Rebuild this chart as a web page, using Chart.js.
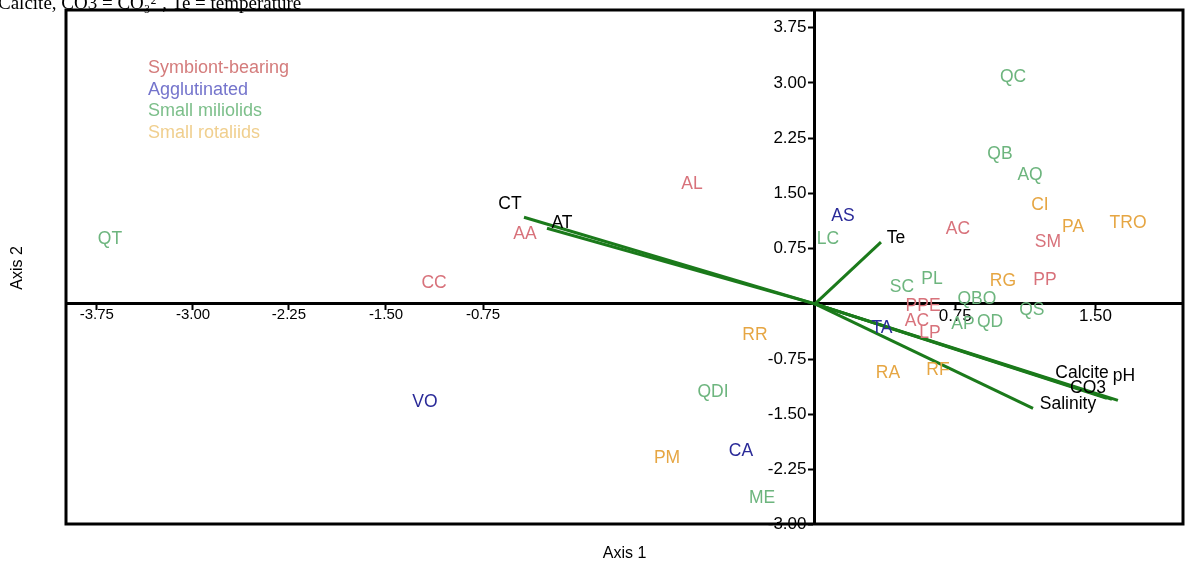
<!DOCTYPE html>
<html>
<head>
<meta charset="utf-8">
<title>Axis 1 / Axis 2 biplot</title>
<script src="https://cdn.jsdelivr.net/npm/chart.js@4.4.1/dist/chart.umd.min.js"></script>
<style>
    html, body { margin: 0; padding: 0; background: #fff; }
</style>
</head>
<body>
<canvas id="myChart" width="1187" height="563"></canvas>
<script>

var groups = ["Symbiont-bearing", "Agglutinated", "Small miliolids", "Small rotaliids"];
var groupColors = ["#d8727b", "#2a2a98", "#6db57e", "#e6a643"];
var legendColors = ["#d47c7c", "#7474cc", "#7cbf8a", "#f0cf8e"];

// species scores (Axis 1, Axis 2)
var symbNames = ["AL", "AA", "CC", "AC", "SM", "PP", "PPE", "AC", "LP"];
var symbX = [-0.658, -1.551, -2.037, 0.765, 1.246, 1.230, 0.578, 0.545, 0.615];
var symbY = [1.62, 0.946, 0.284, 1.014, 0.838, 0.324, -0.027, -0.230, -0.392];

var agglNames = ["AS", "VO", "CA", "TA"];
var agglX = [0.150, -2.086, -0.396, 0.358];
var agglY = [1.189, -1.338, -2.0, -0.324];

var miliNames = ["QT", "LC", "QC", "QB", "AQ", "SC", "PL", "QBO", "QS", "AP", "QD", "QDI", "ME"];
var miliX = [-3.770, 0.070, 1.059, 0.989, 1.150, 0.465, 0.626, 0.866, 1.160, 0.791, 0.936, -0.545, -0.283];
var miliY = [0.878, 0.878, 3.081, 2.027, 1.743, 0.230, 0.338, 0.068, -0.081, -0.270, -0.243, -1.203, -2.635];

var rotaNames = ["CI", "PA", "TRO", "RG", "RR", "RA", "RF", "PM"];
var rotaX = [1.203, 1.380, 1.674, 1.005, -0.321, 0.390, 0.658, -0.791];
var rotaY = [1.338, 1.041, 1.095, 0.311, -0.419, -0.946, -0.905, -2.095];

// environmental vectors
var vecNames = ["CT", "AT", "Te", "Calcite", "CO3", "pH", "Salinity"];
var vecX = [-1.556, -1.433, 0.353, 1.561, 1.588, 1.620, 1.166];
var vecY = [1.176, 1.027, 0.838, -1.284, -1.297, -1.311, -1.419];
var vecLabelX = [-1.631, -1.353, 0.433, 1.428, 1.460, 1.652, 1.353];
var vecLabelY = [1.351, 1.095, 0.892, -0.946, -1.149, -0.986, -1.365];

// tick labels
var xTickAt = [-3.840, -3.326, -2.813, -2.294, -1.775, 0.75, 1.50];
var xTickLabels = ["-3.75", "-3.00", "-2.25", "-1.50", "-0.75", "0.75", "1.50"];
var yTicks = [3.75, 3.00, 2.25, 1.50, 0.75, -0.75, -1.50, -2.25, -3.00];

var title = "Calcite, CO3 = CO\u2083\u00b2\u207b, Te = temperature";

var FONT = "'Liberation Sans', Arial, sans-serif";


function toPoints(xs, ys) {
    var pts = [];
    for (var i = 0; i < xs.length; i++) {
        pts.push({ x: xs[i], y: ys[i] });
    }
    return pts;
}

function createDatasets() {
    var data = [];

    // vectors first so the labels sit on top
    for (var i = 0; i < vecNames.length; i++) {
        data.push({
            label: vecNames[i],
            data: [{ x: 0, y: 0 }, { x: vecX[i], y: vecY[i] }],
            showLine: true,
            borderColor: '#1b7a1b',
            borderWidth: 3,
            pointRadius: 0
        });
    }

    var names = [symbNames, agglNames, miliNames, rotaNames];
    var xs = [symbX, agglX, miliX, rotaX];
    var ys = [symbY, agglY, miliY, rotaY];
    for (var g = 0; g < groups.length; g++) {
        data.push({
            label: groups[g],
            data: toPoints(xs[g], ys[g]),
            names: names[g],
            textColor: groupColors[g],
            showLine: false,
            pointRadius: 0,
            backgroundColor: groupColors[g]
        });
    }

    // vector labels as invisible points
    data.push({
        label: "vector labels",
        data: toPoints(vecLabelX, vecLabelY),
        names: vecNames,
        textColor: '#000',
        showLine: false,
        pointRadius: 0
    });

    return data;
}

var textPlugin = {
    id: 'pointText',
    afterDatasetsDraw: function(chart) {
        var ctx = chart.ctx;
        ctx.save();
        ctx.font = "17.5px " + FONT;
        ctx.textAlign = 'center';
        ctx.textBaseline = 'middle';
        chart.data.datasets.forEach(function(ds, di) {
            if (!ds.names) return;
            var meta = chart.getDatasetMeta(di);
            ctx.fillStyle = ds.textColor;
            meta.data.forEach(function(el, i) {
                ctx.fillText(ds.names[i], el.x, el.y);
            });
        });
        ctx.restore();
    },
    afterDraw: function(chart) {
        var ctx = chart.ctx;
        var a = chart.chartArea;
        ctx.save();

        // frame
        ctx.strokeStyle = '#000';
        ctx.lineWidth = 3;
        ctx.strokeRect(a.left, a.top, a.right - a.left, a.bottom - a.top);

        // legend text
        ctx.font = "18px " + FONT;
        ctx.textAlign = 'left';
        ctx.textBaseline = 'alphabetic';
        for (var i = 0; i < groups.length; i++) {
            ctx.fillStyle = legendColors[i];
            ctx.fillText(groups[i], a.left + 82, a.top + 63 + i * 21.5);
        }

        // axis titles
        ctx.fillStyle = '#000';
        ctx.font = "16px " + FONT;
        ctx.textAlign = 'center';
        ctx.textBaseline = 'middle';
        ctx.fillText("Axis 1", (a.left + a.right) / 2, a.bottom + 30);
        ctx.save();
        ctx.translate(18, (a.top + a.bottom) / 2 + 1);
        ctx.rotate(-Math.PI / 2);
        ctx.fillText("Axis 2", 0, 0);
        ctx.restore();

        // cut-off caption at the very top
        ctx.font = "19px 'Liberation Serif', 'Times New Roman', serif";
        ctx.textAlign = 'left';
        ctx.textBaseline = 'alphabetic';
        ctx.fillText(title, -2, 9);

        ctx.restore();
    }
};

const el = document.getElementById('myChart');

const config = {
    type: 'scatter',
    data: { datasets: createDatasets() },
    options: {
        responsive: false,
        animation: false,
        layout: { padding: { left: 66, top: 10, right: 4, bottom: 39 } },
        plugins: {
            legend: { display: false },
            tooltip: { enabled: false }
        },
        scales: {
            x: {
                type: 'linear',
                position: { y: 0 },
                min: -4.005,
                max: 1.968,
                afterBuildTicks: function(s) {
                    s.ticks = xTickAt.map(function(v) { return { value: v }; });
                },
                ticks: {
                    autoSkip: false,
                    maxRotation: 0,
                    padding: -1,
                    color: '#000',
                    font: function(c) {
                        return { family: FONT, size: (c.tick && c.tick.value < 0) ? 15 : 17, lineHeight: 1 };
                    },
                    callback: function(v, i) { return xTickLabels[i]; }
                },
                grid: { drawOnChartArea: false, drawTicks: true, tickLength: 5, tickWidth: 2, tickColor: '#000' },
                border: { color: '#000', width: 3 }
            },
            y: {
                type: 'linear',
                position: { x: 0 },
                min: -2.99,
                max: 3.99,
                afterBuildTicks: function(s) {
                    s.ticks = yTicks.map(function(v) { return { value: v }; });
                },
                ticks: {
                    autoSkip: false,
                    padding: 1,
                    color: '#000',
                    font: { family: FONT, size: 17, lineHeight: 1 },
                    // en space keeps the label clear of the tick mark
                    callback: function(v) { return Number(v).toFixed(2) + "\u2002"; }
                },
                grid: { drawOnChartArea: false, drawTicks: true, tickLength: 5, tickWidth: 2, tickColor: '#000' },
                border: { color: '#000', width: 3 }
            }
        }
    },
    plugins: [textPlugin]
};

new Chart(el, config);
</script>
</body>
</html>
